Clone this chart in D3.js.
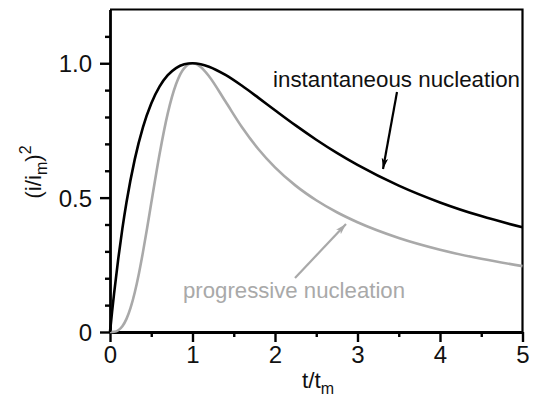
<!DOCTYPE html>
<html>
<head>
<meta charset="utf-8">
<script src="https://cdn.jsdelivr.net/npm/d3@7"></script>
<style>
  body { margin: 0; background: #fff; }
  svg { display: block; font-family: "Liberation Sans", Arial, Helvetica, sans-serif; }
</style>
</head>
<body>
<svg id="chart" width="533" height="410"></svg>
<script>
// Normalised current transients (i/im)^2 versus t/tm
const tInst = [0, 0.025, 0.05, 0.1, 0.15, 0.2, 0.3, 0.4, 0.5, 0.6, 0.7, 0.8, 0.9, 1.0, 1.1, 1.2, 1.4, 1.6, 1.8, 2.0, 2.25, 2.5, 2.75, 3.0, 3.5, 4.0, 4.5, 5.0];
const yInst = [0, 0.0747, 0.1449, 0.2724, 0.3844, 0.4825, 0.6423, 0.7624, 0.8503, 0.9129, 0.9554, 0.9819, 0.9959, 0.9999, 0.9965, 0.9872, 0.9565, 0.9161, 0.8712, 0.8252, 0.7687, 0.7155, 0.6664, 0.6217, 0.5447, 0.4822, 0.4312, 0.3894];

const tProg = [0, 0.05, 0.1, 0.15, 0.2, 0.25, 0.3, 0.35, 0.4, 0.45, 0.5, 0.6, 0.7, 0.8, 0.9, 1.0, 1.1, 1.2, 1.4, 1.6, 1.8, 2.0, 2.25, 2.5, 2.75, 3.0, 3.5, 4.0, 4.5, 5.0];
const yProg = [0, 0.0008, 0.0065, 0.0214, 0.0488, 0.0905, 0.1469, 0.2169, 0.2981, 0.3870, 0.4797, 0.6608, 0.8136, 0.9220, 0.9822, 1.0000, 0.9861, 0.9518, 0.8574, 0.7620, 0.6801, 0.6126, 0.5446, 0.4902, 0.4456, 0.4085, 0.3501, 0.3064, 0.2723, 0.2451];

const xMajor = [0, 1, 2, 3, 4, 5];
const xMinor = [0.5, 1.5, 2.5, 3.5, 4.5];
const yMajor = [0, 0.5, 1.0];
const yMinor = [0.1, 0.2, 0.3, 0.4, 0.6, 0.7, 0.8, 0.9, 1.1];

const svg = d3.select("#chart");
const m = { left: 110, right: 522.5, top: 9.5, bottom: 332 };

const x = d3.scaleLinear().domain([0, 5]).range([m.left, m.right]);
const y = d3.scaleLinear().domain([0, 1.2]).range([m.bottom, m.top]);

// frame (top and right sides)
svg.append("path")
  .attr("d", `M${m.left},${m.top}H${m.right}V${m.bottom}`)
  .attr("fill", "none").attr("stroke", "#000").attr("stroke-width", 2.2);

// axes
const xAxis = svg.append("g").attr("transform", `translate(0,${m.bottom})`)
  .call(d3.axisBottom(x).tickValues(xMajor).tickFormat(d3.format("d")).tickSize(10).tickSizeOuter(0));
svg.append("g").attr("transform", `translate(0,${m.bottom})`)
  .call(d3.axisBottom(x).tickValues(xMinor).tickFormat("").tickSize(5).tickSizeOuter(0))
  .select(".domain").remove();
const yAxis = svg.append("g").attr("transform", `translate(${m.left},0)`)
  .call(d3.axisLeft(y).tickValues(yMajor).tickFormat(d => d === 0 ? "0" : d3.format(".1f")(d)).tickSize(10).tickSizeOuter(0));
svg.append("g").attr("transform", `translate(${m.left},0)`)
  .call(d3.axisLeft(y).tickValues(yMinor).tickFormat("").tickSize(5).tickSizeOuter(0))
  .select(".domain").remove();

svg.selectAll(".domain").attr("stroke-width", 2.8).attr("stroke", "#000");
svg.selectAll(".tick line").attr("stroke-width", 2.4).attr("stroke", "#000");
xAxis.selectAll(".tick text").attr("font-size", 24).attr("fill", "#111").attr("dy", "0.71em").attr("y", 14);
yAxis.selectAll(".tick text").attr("font-size", 24).attr("fill", "#111").attr("x", -18).attr("dy", "0.36em");
svg.selectAll(".tick text").attr("font-family", "Liberation Sans, Arial, sans-serif");

// curves
const line = d3.line().x(d => x(d[0])).y(d => y(d[1])).curve(d3.curveMonotoneX);
svg.append("path").datum(d3.zip(tProg, yProg))
  .attr("d", line).attr("fill", "none").attr("stroke", "#a9a9a9").attr("stroke-width", 2.6);
svg.append("path").datum(d3.zip(tInst, yInst))
  .attr("d", line).attr("fill", "none").attr("stroke", "#000").attr("stroke-width", 2.6);

// axis titles
const xt = svg.append("text").attr("x", 318).attr("y", 388).attr("text-anchor", "middle")
  .attr("font-size", 22.5).attr("fill", "#111");
xt.append("tspan").text("t/t");
xt.append("tspan").attr("font-size", 16).attr("dy", 6).text("m");

const yt = svg.append("text").attr("transform", "translate(41,172) rotate(-90)")
  .attr("text-anchor", "middle").attr("font-size", 22.5).attr("fill", "#111");
yt.append("tspan").text("(i/i");
yt.append("tspan").attr("font-size", 16).attr("dy", 6).text("m");
yt.append("tspan").attr("dy", -6).text(")");
yt.append("tspan").attr("font-size", 16).attr("dy", -10).text("2");

// annotations
const defs = svg.append("defs");
[["headBlack", "#000"], ["headGray", "#a9a9a9"]].forEach(([id, c]) => {
  defs.append("marker").attr("id", id).attr("viewBox", "0 0 10 6")
    .attr("refX", 10).attr("refY", 3).attr("markerWidth", 11).attr("markerHeight", 7)
    .attr("markerUnits", "userSpaceOnUse").attr("orient", "auto")
    .append("path").attr("d", "M0,0L10,3L0,6L2.5,3Z").attr("fill", c);
});

svg.append("text").attr("x", 273).attr("y", 87).attr("font-size", 22.3).attr("fill", "#111")
  .attr("textLength", 247).attr("lengthAdjust", "spacingAndGlyphs")
  .text("instantaneous nucleation");
svg.append("line").attr("x1", 397).attr("y1", 92).attr("x2", 383).attr("y2", 169)
  .attr("stroke", "#000").attr("stroke-width", 2.2).attr("marker-end", "url(#headBlack)");

svg.append("text").attr("x", 183).attr("y", 298).attr("font-size", 22.3).attr("fill", "#a9a9a9")
  .attr("textLength", 222).attr("lengthAdjust", "spacingAndGlyphs")
  .text("progressive nucleation");
svg.append("line").attr("x1", 295).attr("y1", 278).attr("x2", 346).attr("y2", 224)
  .attr("stroke", "#a9a9a9").attr("stroke-width", 2.2).attr("marker-end", "url(#headGray)");
</script>
</body>
</html>
